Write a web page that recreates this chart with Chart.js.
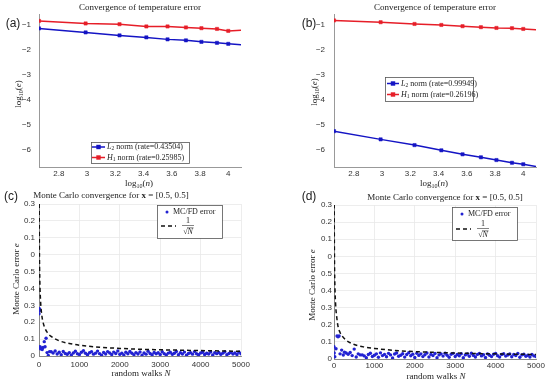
<!DOCTYPE html>
<html>
<head>
<meta charset="utf-8">
<script src="https://cdn.jsdelivr.net/npm/chart.js@4.4.1/dist/chart.umd.min.js"></script>
<style>
  body { margin: 0; background: #fff; }
  #fig { position: relative; width: 550px; height: 384px; background: #fff; }
  #fig canvas { position: absolute; left: 0; top: 0; }
</style>
</head>
<body>
<div id="fig">
  <canvas id="pa" width="550" height="384"></canvas>
  <canvas id="pb" width="550" height="384"></canvas>
  <canvas id="pc" width="550" height="384"></canvas>
  <canvas id="pd" width="550" height="384"></canvas>
</div>
<script>
// ---- (a), (b): convergence of temperature error, x = log10(n)
const logN = [2.66, 2.99, 3.23, 3.42, 3.57, 3.70, 3.81, 3.92, 4.00, 4.17];
const aL2 = [-1.13, -1.29, -1.41, -1.49, -1.57, -1.61, -1.67, -1.71, -1.75, -1.82];
const aH1 = [-0.83, -0.93, -0.96, -1.05, -1.05, -1.09, -1.12, -1.15, -1.23, -1.18];
const bL2 = [-5.26, -5.59, -5.82, -6.03, -6.19, -6.31, -6.42, -6.53, -6.59, -6.76];
const bH1 = [-0.81, -0.88, -0.95, -0.99, -1.04, -1.08, -1.11, -1.12, -1.15, -1.22];
const rateA = ['0.43504', '0.25985'];
const rateB = ['0.99949', '0.26196'];
const xTicksConv = [2.8, 3, 3.2, 3.4, 3.6, 3.8, 4];
const yTicksConv = [-6, -5, -4, -3, -2, -1];

// ---- (c), (d): Monte Carlo error vs number of random walks
const walksEarlyC = [0, 5, 10, 15, 25, 40, 60, 80, 100, 130, 150, 175, 200, 230, 260];
const errEarlyC = [0.25, 0.27, 0.28, 0.27, 0.055, 0.042, 0.046, 0.038, 0.05, 0.085, 0.055, 0.105, 0.02, 0.003, 0.026];
const walksEarlyD = [0, 5, 20, 50, 75, 100, 125, 150, 190, 230, 260];
const errEarlyD = [0.072, 0.035, 0.013, 0.06, 0.134, 0.13, 0.134, 0.03, 0.052, 0.023, 0.04];
const walks = [300, 350, 400, 450, 500, 550, 600, 650, 700, 750,
  800, 850, 900, 950, 1000, 1050, 1100, 1150, 1200, 1250,
  1300, 1350, 1400, 1450, 1500, 1550, 1600, 1650, 1700, 1750,
  1800, 1850, 1900, 1950, 2000, 2050, 2100, 2150, 2200, 2250,
  2300, 2350, 2400, 2450, 2500, 2550, 2600, 2650, 2700, 2750,
  2800, 2850, 2900, 2950, 3000, 3050, 3100, 3150, 3200, 3250,
  3300, 3350, 3400, 3450, 3500, 3550, 3600, 3650, 3700, 3750,
  3800, 3850, 3900, 3950, 4000, 4050, 4100, 4150, 4200, 4250,
  4300, 4350, 4400, 4450, 4500, 4550, 4600, 4650, 4700, 4750,
  4800, 4850, 4900, 4950, 5000];
const errC = [0.025, 0.018, 0.030, 0.012, 0.022, 0.008, 0.027, 0.015, 0.010, 0.020,
  0.006, 0.018, 0.028, 0.013, 0.009, 0.022, 0.031, 0.016, 0.007, 0.019,
  0.025, 0.011, 0.017, 0.029, 0.014, 0.005, 0.021, 0.012, 0.026, 0.018,
  0.009, 0.023, 0.015, 0.030, 0.010, 0.017, 0.006, 0.022, 0.013, 0.027,
  0.016, 0.008, 0.020, 0.012, 0.024, 0.004, 0.018, 0.011, 0.028, 0.015,
  0.007, 0.021, 0.013, 0.019, 0.009, 0.025, 0.014, 0.006, 0.017, 0.022,
  0.010, 0.016, 0.027, 0.008, 0.019, 0.012, 0.023, 0.005, 0.015, 0.020,
  0.011, 0.026, 0.013, 0.007, 0.018, 0.022, 0.009, 0.016, 0.012, 0.024,
  0.006, 0.019, 0.014, 0.021, 0.010, 0.017, 0.025, 0.008, 0.015, 0.020,
  0.012, 0.018, 0.009, 0.022, 0.013];
const errD = [0.035, 0.028, 0.038, 0.020, 0.058, 0.012, 0.030, 0.024, 0.024, 0.018,
  0.008, 0.026, 0.034, 0.015, 0.022, 0.030, 0.010, 0.036, 0.020, 0.027,
  0.013, 0.033, 0.024, 0.006, 0.029, 0.035, 0.016, 0.022, 0.031, 0.011,
  0.026, 0.037, 0.019, 0.028, 0.009, 0.033, 0.021, 0.030, 0.014, 0.025,
  0.035, 0.012, 0.027, 0.020, 0.032, 0.008, 0.024, 0.030, 0.017, 0.034,
  0.022, 0.010, 0.028, 0.033, 0.015, 0.026, 0.019, 0.031, 0.007, 0.024,
  0.029, 0.016, 0.034, 0.021, 0.012, 0.027, 0.032, 0.018, 0.025, 0.009,
  0.030, 0.022, 0.014, 0.028, 0.033, 0.019, 0.011, 0.026, 0.031, 0.017,
  0.023, 0.029, 0.013, 0.027, 0.020, 0.032, 0.010, 0.024, 0.028, 0.016,
  0.022, 0.012, 0.026, 0.018, 0.014];
// reference curve 1/sqrt(N) as drawn (in plotted units)
const refN = [3, 5, 10, 20, 40, 70, 100, 150, 200, 300, 500, 750, 1000, 1500, 2000, 2500, 3000, 4000, 5000];
const refC = [1.15, 0.9, 0.63, 0.45, 0.32, 0.24, 0.2, 0.163, 0.141, 0.116, 0.09, 0.074, 0.064, 0.052, 0.045, 0.04, 0.037, 0.032, 0.028];
const refD = [1.15, 0.9, 0.63, 0.45, 0.32, 0.24, 0.19, 0.155, 0.135, 0.11, 0.085, 0.07, 0.062, 0.05, 0.043, 0.039, 0.035, 0.03, 0.026];
const xTicksMC = [0, 1000, 2000, 3000, 4000, 5000];
const yTicksMC = [0, 0.1, 0.2, 0.3, 0.4, 0.5, 0.6, 0.7, 0.8, 0.9];
const yLabelsMC = ['0', '0.1', '0.2', '0.3', '0.4', '0.5', '0', '0.1', '0.2', '0.3'];

const BLUE = '#1414c4';
const RED = '#e61e28';
const DOT = '#2222d2';
const SERIF = '"Liberation Serif", "DejaVu Serif", serif';
const SANS = '"Liberation Sans", Arial, sans-serif';
const fs = (px, st) => (st ? st + ' ' : '') + px + 'px ' + SERIF;

function runsWidth(ctx, runs) {
  let w = 0;
  for (const r of runs) { ctx.font = r.f; w += ctx.measureText(r.t).width; }
  return w;
}
function drawRuns(ctx, runs, x, y, align) {
  let cx = align === 'center' ? x - runsWidth(ctx, runs) / 2 : x;
  ctx.textBaseline = 'middle';
  ctx.textAlign = 'left';
  for (const r of runs) {
    ctx.font = r.f;
    ctx.fillStyle = '#222';
    ctx.fillText(r.t, cx, y + (r.dy || 0));
    cx += ctx.measureText(r.t).width;
  }
}
const logLabel = v => [{t: 'log', f: fs(9)}, {t: '10', f: fs(6), dy: 2.5}, {t: '(', f: fs(9)}, {t: v, f: fs(9, 'italic')}, {t: ')', f: fs(9)}];
const normLabel = (a, sub, rate) => [{t: a, f: fs(8, 'italic')}, {t: sub, f: fs(5.5), dy: 2}, {t: ' norm (rate=' + rate + ')', f: fs(8)}];
const mcTitle = [{t: 'Monte Carlo convergence for ', f: fs(9)}, {t: 'x', f: fs(9, 'bold')}, {t: ' = [0.5, 0.5]', f: fs(9)}];

// text, legends and panel letters drawn on top of each chart
const decor = {
  pa: {
    tag: ['(a)', 13, 24], title: [[{t: 'Convergence of temperature error', f: fs(9)}], 140, 8],
    xl: [logLabel('n'), 139, 184], yl: [logLabel('e'), 19, 94],
    legend: {box: [91, 142, 98, 21], rows: [
      {kind: 'mark', c: BLUE, y: 147, x0: 92, x1: 105, tx: 107, runs: normLabel('L', '2', rateA[0])},
      {kind: 'mark', c: RED, y: 157.5, x0: 92, x1: 105, tx: 107, runs: normLabel('H', '1', rateA[1])}]}
  },
  pb: {
    tag: ['(b)', 309, 24], title: [[{t: 'Convergence of temperature error', f: fs(9)}], 435, 8],
    xl: [logLabel('n'), 434, 184], yl: [logLabel('e'), 315, 92],
    legend: {box: [385, 77, 88, 24], rows: [
      {kind: 'mark', c: BLUE, y: 83.5, x0: 387, x1: 399, tx: 401, runs: normLabel('L', '2', rateB[0])},
      {kind: 'mark', c: RED, y: 94.5, x0: 387, x1: 399, tx: 401, runs: normLabel('H', '1', rateB[1])}]}
  },
  pc: {
    tag: ['(c)', 11, 197], title: [mcTitle, 111, 196],
    xl: [[{t: 'random walks ', f: fs(9)}, {t: 'N', f: fs(9, 'italic')}], 141, 374],
    yl: [[{t: 'Monte Carlo error ', f: fs(9)}, {t: 'e', f: fs(9, 'italic')}], 17, 279],
    legend: {box: [157, 205, 65, 33], rows: [
      {kind: 'dot', y: 212, x: 167, tx: 173, runs: [{t: 'MC/FD error', f: fs(8)}]},
      {kind: 'dash', y: 226, x0: 161, x1: 176, fx: 188}]}
  },
  pd: {
    tag: ['(d)', 309, 197], title: [mcTitle, 445, 198],
    xl: [[{t: 'random walks ', f: fs(9)}, {t: 'N', f: fs(9, 'italic')}], 436, 377],
    yl: [[{t: 'Monte Carlo error ', f: fs(9)}, {t: 'e', f: fs(9, 'italic')}], 313, 285],
    legend: {box: [452, 207, 65, 33], rows: [
      {kind: 'dot', y: 214, x: 462, tx: 468, runs: [{t: 'MC/FD error', f: fs(8)}]},
      {kind: 'dash', y: 229, x0: 456, x1: 471, fx: 483}]}
  }
};

const decorPlugin = {
  id: 'decor',
  afterDraw(chart) {
    const d = decor[chart.canvas.id];
    const ctx = chart.ctx;
    ctx.save();
    ctx.font = '12px ' + SANS;
    ctx.fillStyle = '#222';
    ctx.textAlign = 'center';
    ctx.textBaseline = 'middle';
    ctx.fillText(d.tag[0], d.tag[1], d.tag[2]);
    drawRuns(ctx, d.title[0], d.title[1], d.title[2], 'center');
    drawRuns(ctx, d.xl[0], d.xl[1], d.xl[2], 'center');
    ctx.save();
    ctx.translate(d.yl[1], d.yl[2]);
    ctx.rotate(-Math.PI / 2);
    drawRuns(ctx, d.yl[0], 0, 0, 'center');
    ctx.restore();

    const L = d.legend;
    ctx.fillStyle = '#fff';
    ctx.fillRect(L.box[0], L.box[1], L.box[2], L.box[3]);
    ctx.strokeStyle = '#555';
    ctx.lineWidth = 0.8;
    ctx.strokeRect(L.box[0] + 0.5, L.box[1] + 0.5, L.box[2], L.box[3]);
    for (const r of L.rows) {
      if (r.kind === 'mark') {
        ctx.strokeStyle = r.c; ctx.fillStyle = r.c; ctx.lineWidth = 1.5;
        ctx.beginPath(); ctx.moveTo(r.x0, r.y); ctx.lineTo(r.x1, r.y); ctx.stroke();
        const m = (r.x0 + r.x1) / 2;
        ctx.fillRect(m - 2.2, r.y - 2.2, 4.4, 4.4);
        drawRuns(ctx, r.runs, r.tx, r.y, 'left');
      } else if (r.kind === 'dot') {
        ctx.fillStyle = DOT;
        ctx.beginPath(); ctx.arc(r.x, r.y, 1.5, 0, Math.PI * 2); ctx.fill();
        drawRuns(ctx, r.runs, r.tx, r.y, 'left');
      } else {
        ctx.strokeStyle = '#111'; ctx.lineWidth = 1.5; ctx.setLineDash([4, 3]);
        ctx.beginPath(); ctx.moveTo(r.x0, r.y); ctx.lineTo(r.x1, r.y); ctx.stroke();
        ctx.setLineDash([]);
        // 1 / sqrt(N)
        ctx.fillStyle = '#222';
        ctx.font = fs(8); ctx.textAlign = 'center'; ctx.textBaseline = 'middle';
        ctx.fillText('1', r.fx, r.y - 5.5);
        ctx.lineWidth = 0.6; ctx.strokeStyle = '#333';
        ctx.beginPath(); ctx.moveTo(r.fx - 6, r.y - 0.5); ctx.lineTo(r.fx + 6, r.y - 0.5); ctx.stroke();
        drawRuns(ctx, [{t: '\u221A', f: fs(8)}, {t: 'N', f: fs(8, 'italic')}], r.fx, r.y + 5.5, 'center');
        ctx.beginPath(); ctx.moveTo(r.fx - 1, r.y + 1.8); ctx.lineTo(r.fx + 5.5, r.y + 1.8); ctx.stroke();
      }
    }
    ctx.restore();
  }
};

function fixAxis(kind, size) {
  return function (s) {
    if (kind === 'x') { s.height = size; s.paddingLeft = 0; s.paddingRight = 0; }
    else { s.width = size; s.paddingTop = 0; s.paddingBottom = 0; }
  };
}

// area = [left, top, right, bottom] of the plot box in page pixels
function makeChart(id, area, datasets, xs, ys) {
  const yw = 30, xh = 20;
  return new Chart(document.getElementById(id), {
    type: 'line',
    data: {datasets: datasets},
    options: {
      responsive: false, animation: false, devicePixelRatio: 1, events: [],
      layout: {padding: {left: area[0] - yw, top: area[1], right: 550 - area[2], bottom: 384 - area[3] - xh}},
      plugins: {legend: {display: false}, tooltip: {enabled: false}},
      scales: {
        x: Object.assign({type: 'linear', afterFit: fixAxis('x', xh)}, xs),
        y: Object.assign({type: 'linear', afterFit: fixAxis('y', yw)}, ys)
      }
    },
    plugins: [decorPlugin]
  });
}

const tickFont = {family: SANS, size: 8};
const minus = v => (v < 0 ? '\u2212' + Math.abs(v) : String(v));

function convScales(pad) {
  return [{
    min: 2.66, max: 4.09,
    afterBuildTicks: s => { s.ticks = xTicksConv.map(v => ({value: v})); },
    ticks: {font: tickFont, color: '#333', padding: 2, maxRotation: 0, callback: v => String(Number(v.toFixed(1)))},
    grid: {display: false, drawTicks: false},
    border: {display: true, color: '#999', width: 1}
  }, {
    min: -6.7, max: -0.55,
    afterBuildTicks: s => { s.ticks = yTicksConv.map(v => ({value: v})); },
    ticks: {font: tickFont, color: '#333', padding: pad, callback: v => minus(v)},
    grid: {display: false, drawTicks: false},
    border: {display: true, color: '#999', width: 1}
  }];
}
function convSets(l2, h1) {
  const mk = (vals, c) => ({
    data: logN.map((x, i) => ({x: x, y: vals[i]})),
    borderColor: c, backgroundColor: c, borderWidth: 1.5,
    pointStyle: 'rect', pointRadius: 2.3, pointBorderWidth: 0.5, tension: 0, clip: 0
  });
  return [mk(h1, RED), mk(l2, BLUE)];
}

function mcScales(xpad, ypad) {
  const grid = {display: true, drawTicks: false, color: '#e9e9e9', lineWidth: 0.8};
  return [{
    min: 0, max: 5000,
    afterBuildTicks: s => { s.ticks = xTicksMC.map(v => ({value: v})); },
    ticks: {font: tickFont, color: '#333', padding: xpad, maxRotation: 0, callback: v => String(v)},
    grid: grid, border: {display: true, color: '#888', width: 1}
  }, {
    min: 0, max: 0.9,
    afterBuildTicks: s => { s.ticks = yTicksMC.map(v => ({value: v})); },
    ticks: {font: tickFont, color: '#333', padding: ypad, callback: (v, i) => yLabelsMC[i]},
    grid: grid, border: {display: true, color: '#888', width: 1}
  }];
}
function mcSets(wEarly, eEarly, err, ref) {
  const ns = wEarly.concat(walks), es = eEarly.concat(err);
  return [{
    data: refN.map((n, i) => ({x: n, y: ref[i]})),
    borderColor: '#111', borderWidth: 1.5, borderDash: [4, 3],
    pointRadius: 0, cubicInterpolationMode: 'monotone', clip: 0, order: 0
  }, {
    data: ns.map((n, i) => ({x: n, y: es[i]})),
    showLine: false, pointRadius: 1.7, pointBorderWidth: 0,
    backgroundColor: DOT, borderColor: DOT, order: 1
  }];
}

let sa = convScales(8), sb = convScales(9);
makeChart('pa', [39, 14, 241, 167], convSets(aL2, aH1), sa[0], sa[1]);
makeChart('pb', [334, 14, 536, 167], convSets(bL2, bH1), sb[0], sb[1]);
let sc = mcScales(4, 4), sd = mcScales(2, 2);
makeChart('pc', [39, 204, 241, 356], mcSets(walksEarlyC, errEarlyC, errC, refC), sc[0], sc[1]);
makeChart('pd', [334, 205, 536, 359], mcSets(walksEarlyD, errEarlyD, errD, refD), sd[0], sd[1]);
</script>
</body>
</html>
